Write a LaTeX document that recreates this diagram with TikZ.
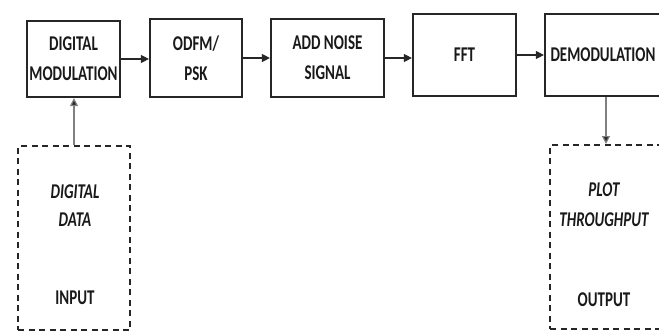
\documentclass[tikz,border=0pt]{standalone}
\usepackage{fontspec}
\setmainfont{Carlito}
\usetikzlibrary{arrows.meta}
\newcommand{\tallt}[1]{\scalebox{1}[1.4]{#1}}
\tikzset{
  blk/.style={draw=black!85, line width=2.2pt, rectangle, inner sep=0pt,
    font=\fontsize{15}{18}\selectfont\bfseries, align=center, text=black!90},
  dbox/.style={draw=black!85, line width=2pt, dash pattern=on 6pt off 4.5pt, rectangle, inner sep=0pt},
  lbl/.style={font=\fontsize{15}{18}\selectfont\bfseries, text=black!90, inner sep=0pt},
  arr/.style={draw=black!85, line width=1.2pt, -{Triangle[length=8pt,width=8pt]}},
  garr/.style={draw=black!50, line width=1.2pt, -{Triangle[length=8pt,width=8pt,fill=black!85]}}
}
\begin{document}
\begin{tikzpicture}[x=1pt,y=-1pt]
\useasboundingbox (0,0) rectangle (659,332);
\clip (0,0) rectangle (659,332);
\node[blk, minimum width=93pt, minimum height=76pt] (b1) at (73.5,59) {\tallt{DIGITAL}\\[12pt]\tallt{MODULATION}};
\node[blk, minimum width=92pt, minimum height=78pt] (b2) at (196,58) {\tallt{ODFM/}\\[12pt]\tallt{PSK}};
\node[blk, minimum width=113pt, minimum height=78pt] (b3) at (327.5,58) {\tallt{ADD NOISE}\\[12pt]\tallt{SIGNAL}};
\node[blk, minimum width=103pt, minimum height=82pt] (b4) at (464.5,55) {\tallt{FFT}};
\node[blk, minimum width=126pt, minimum height=82pt] (b5) at (608,55) {};
\node[lbl] (t5) at (603,55) {\tallt{DEMODULATION}};
\node[dbox, minimum width=112pt, minimum height=184pt] (in) at (74,238) {};
\node[lbl, font=\fontsize{15}{18}\selectfont\bfseries\itshape] (in1) at (75,192) {\tallt{DIGITAL}};
\node[lbl, font=\fontsize{15}{18}\selectfont\bfseries\itshape] (in2) at (75,220) {\tallt{DATA}};
\node[lbl] (in3) at (75,298) {\tallt{INPUT}};
\node[dbox, minimum width=122pt, minimum height=184pt] (out) at (611,237) {};
\node[lbl, font=\fontsize{15}{18}\selectfont\bfseries\itshape] (o1) at (604,190) {\tallt{PLOT}};
\node[lbl, font=\fontsize{15}{18}\selectfont\bfseries\itshape] (o2) at (604,220) {\tallt{THROUGHPUT}};
\node[lbl] (o3) at (604,300) {\tallt{OUTPUT}};
\draw[arr] (b1.east) -- (b1.east -| b2.west);
\draw[arr] (b2.east) -- (b2.east -| b3.west);
\draw[arr] (b3.east) -- (b3.east -| b4.west);
\draw[arr] (b4.east) -- (b4.east -| b5.west);
\draw[garr] (in.north) -- (in.north |- b1.south);
\coordinate (dtop) at (606,96);
\draw[garr] (b5.south -| dtop) -- (out.north -| dtop);
\end{tikzpicture}
\end{document}
